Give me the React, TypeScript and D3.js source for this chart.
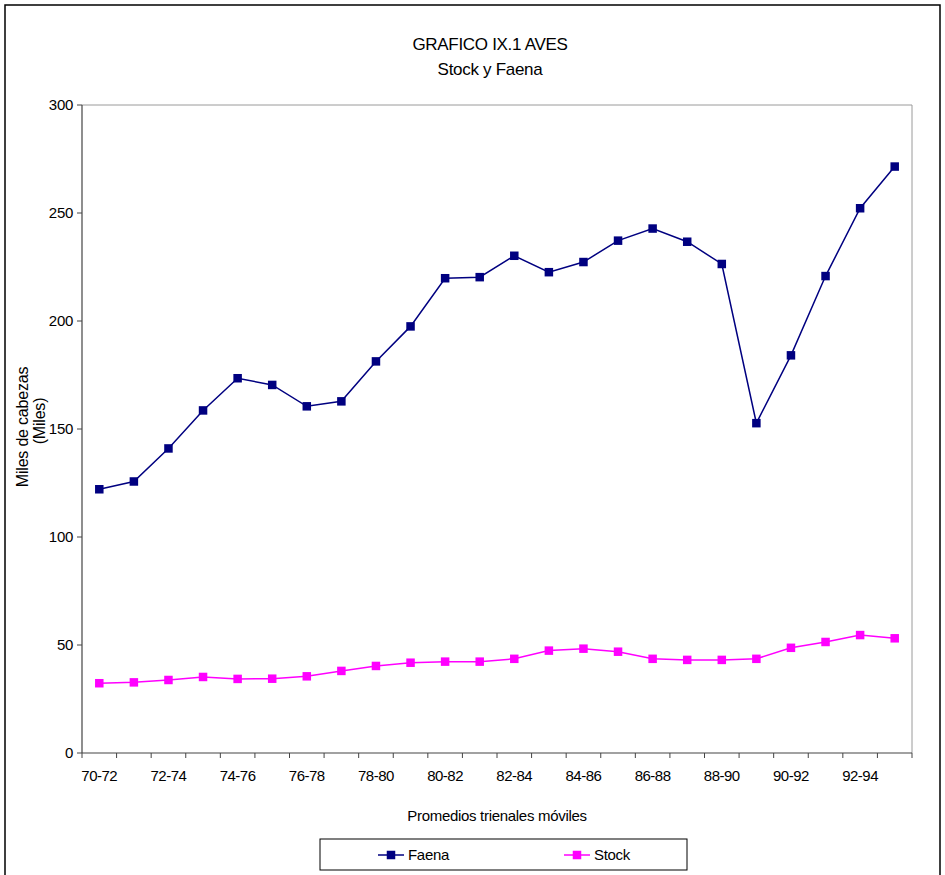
import React from "react";
import * as d3 from "d3";

const categories = [
  "70-72", "71-73", "72-74", "73-75", "74-76", "75-77", "76-78", "77-79",
  "78-80", "79-81", "80-82", "81-83", "82-84", "83-85", "84-86", "85-87",
  "86-88", "87-89", "88-90", "89-91", "90-92", "91-93", "92-94", "93-95",
];
const faena = [
  122.1, 125.7, 141.0, 158.6, 173.5, 170.4, 160.5, 162.8, 181.3, 197.5,
  219.8, 220.3, 230.2, 222.6, 227.3, 237.2, 242.8, 236.7, 226.4, 152.7,
  184.1, 220.8, 252.2, 271.5,
];
const stock = [
  32.3, 32.7, 33.8, 35.2, 34.3, 34.4, 35.5, 38.0, 40.3, 41.8, 42.3, 42.3,
  43.6, 47.4, 48.3, 46.9, 43.6, 43.1, 43.1, 43.6, 48.7, 51.4, 54.6, 53.1,
];
const yTicks = [0, 50, 100, 150, 200, 250, 300];
const titleLines = ["GRAFICO IX.1 AVES", "Stock y Faena"];
const yLabelLines = ["Miles de cabezas", "(Miles)"];
const xTitle = "Promedios trienales móviles";
const seriesNames = ["Faena", "Stock"];

const FONT = "'Liberation Sans', Arial, sans-serif";

export default function App() {
  const W = 945, H = 875;
  const left = 82, right = 912, top = 105, bottom = 753;
  const x = d3.scaleBand<string>().domain(categories).range([left, right]).padding(0);
  const y = d3.scaleLinear().domain([0, 300]).range([bottom, top]);
  const cx = (c: string) => (x(c) as number) + x.bandwidth() / 2;

  const line = d3
    .line<number>()
    .x((_, i) => cx(categories[i]))
    .y((d) => y(d));

  const series = [
    { name: seriesNames[0], values: faena, color: "#000080" },
    { name: seriesNames[1], values: stock, color: "#FF00FF" },
  ];
  const ms = 8.5;
  const boundaries = categories.map((c) => x(c) as number).concat([right]);

  return (
    <svg
      width={W}
      height={H}
      style={{ position: "absolute", left: 0, top: 0, background: "#fff" }}
      fontFamily={FONT}
    >
      <rect x={0} y={0} width={W} height={H} fill="#fff" />
      {/* outer frame */}
      <rect x={5} y={5} width={935} height={H + 10} fill="none" stroke="#000" strokeWidth={1.5} />

      {/* title */}
      <text x={490} y={50} textAnchor="middle" fontSize={17} letterSpacing={-0.3} fill="#000">{titleLines[0]}</text>
      <text x={490} y={75} textAnchor="middle" fontSize={17} letterSpacing={-0.3} fill="#000">{titleLines[1]}</text>

      {/* plot area border (top/right) */}
      <line x1={left} x2={right} y1={top} y2={top} stroke="#9a9a9a" strokeWidth={1} />
      <line x1={right} x2={right} y1={top} y2={bottom} stroke="#9a9a9a" strokeWidth={1} />

      {/* y axis */}
      <line x1={left} x2={left} y1={top} y2={bottom} stroke="#444" strokeWidth={1.2} />
      {yTicks.map((t) => (
        <g key={t}>
          <line x1={left - 5} x2={left} y1={y(t)} y2={y(t)} stroke="#444" />
          <text x={left - 9} y={y(t) + 5} textAnchor="end" fontSize={15} letterSpacing={-0.3} fill="#000">{t}</text>
        </g>
      ))}

      {/* x axis */}
      <line x1={left} x2={right} y1={bottom} y2={bottom} stroke="#444" strokeWidth={1.2} />
      {boundaries.map((b, i) => (
        <line key={i} x1={b} x2={b} y1={bottom} y2={bottom + 5} stroke="#444" />
      ))}
      {categories.map((c, i) =>
        i % 2 === 0 ? (
          <text key={c} x={cx(c)} y={bottom + 28} textAnchor="middle" fontSize={15} letterSpacing={-0.5} fill="#000">{c}</text>
        ) : null
      )}

      {/* axis titles */}
      <text x={497} y={821} textAnchor="middle" fontSize={15} letterSpacing={-0.3} fill="#000">{xTitle}</text>
      <text transform="translate(28,427) rotate(-90)" textAnchor="middle" fontSize={16} letterSpacing={-0.2} fill="#000">{yLabelLines[0]}</text>
      <text transform="translate(45,421) rotate(-90)" textAnchor="middle" fontSize={16} letterSpacing={-0.2} fill="#000">{yLabelLines[1]}</text>

      {/* series */}
      {series.map((s) => (
        <g key={s.name}>
          <path d={line(s.values) as string} fill="none" stroke={s.color} strokeWidth={1.5} />
          {s.values.map((v, i) => (
            <rect
              key={i}
              x={cx(categories[i]) - ms / 2}
              y={y(v) - ms / 2}
              width={ms}
              height={ms}
              fill={s.color}
            />
          ))}
        </g>
      ))}

      {/* legend */}
      <rect x={320} y={839} width={367} height={31} fill="#fff" stroke="#000" strokeWidth={1} />
      {series.map((s, i) => {
        const mx = i === 0 ? 391 : 577;
        const my = 855;
        return (
          <g key={s.name}>
            <line x1={mx - 13} x2={mx + 13} y1={my} y2={my} stroke={s.color} strokeWidth={1.5} />
            <rect x={mx - ms / 2} y={my - ms / 2} width={ms} height={ms} fill={s.color} />
            <text x={mx + 17} y={my + 5} fontSize={15} letterSpacing={-0.3} fill="#000">{s.name}</text>
          </g>
        );
      })}
    </svg>
  );
}
